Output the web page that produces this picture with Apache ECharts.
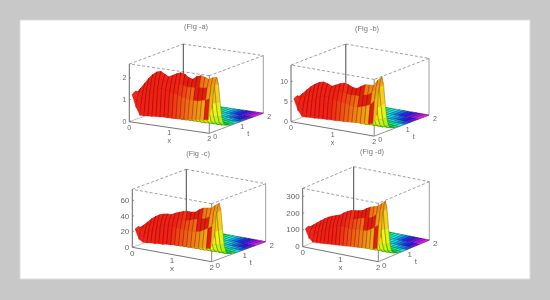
<!DOCTYPE html>
<html>
<head>
<meta charset="utf-8">
<style>html,body{margin:0;padding:0;background:#c8c8c8}#main{width:550px;height:300px}</style>
<script src="https://cdn.jsdelivr.net/npm/echarts@6/dist/echarts.min.js"></script>
</head>
<body>
<div id="main"></div>
<script>
var xValues = [0,.1,.2,.3,.4,.5,.6,.7,.8,.9,1,1.1,1.2,1.3,1.4,1.5,1.6,1.7,1.8,1.9,2];
var tValues = [.1,.16,.22,.28,.34,.4,.46,.52,.6,.75,.9,1.1,1.3,1.6,2];
var xTicks = [0,1,2];
var tTicks = [0,1,2];

// one row per tValues entry, one column per xValues entry
var surfaceA = [
[1.2,.65,.3,.3,.32,.33,.35,.36,.38,.38,.38,.4,.4,.42,.44,.46,.48,.5,.52,.55,1.1],
[1.25,1.1,1,1.15,1.3,1.45,1.6,1.65,1.6,1.55,1.5,1.45,1.4,1.35,1.3,1.3,1.3,1.35,1.4,1.5,1.9],
[1.3,1.3,1.4,1.6,1.85,2,2.05,2,1.95,1.95,1.95,1.95,1.9,1.85,1.85,1.85,1.9,1.9,1.95,2.1,2.3],
[1.2,1.45,1.7,1.95,2.15,2.3,2.35,2.25,2.15,2.25,2.35,2.42,2.38,2.25,2.2,2.35,2.42,2.38,2.3,2.4,2.45],
[1.15,1.25,1.45,1.65,1.85,1.95,2,1.9,1.85,1.9,2,2.05,2,1.9,1.9,2,2.05,2,1.95,2.05,2.1],
[.9,.8,.85,.95,1.05,1.15,1.2,1.15,1.1,1.15,1.2,1.2,1.2,1.15,1.1,1.2,1.2,1.2,1.15,1.2,1.25],
[.5,.4,.4,.45,.5,.5,.5,.5,.5,.5,.5,.55,.55,.5,.5,.5,.55,.55,.5,.55,.55],
[.25,.2,.2,.2,.2,.2,.2,.2,.2,.2,.2,.22,.22,.2,.2,.2,.22,.22,.2,.22,.24],
[.1,.08,.08,.08,.08,.08,.08,.08,.08,.08,.08,.09,.09,.08,.08,.08,.09,.09,.08,.09,.1],
[.04,.03,.03,.03,.03,.03,.03,.03,.03,.03,.03,.04,.04,.03,.03,.03,.04,.04,.03,.04,.04],
[.03,.02,.02,.02,.02,.02,.02,.02,.02,.02,.02,.03,.03,.02,.02,.02,.03,.03,.02,.03,.03],
[.02,.02,.02,.02,.02,.02,.02,.02,.02,.02,.02,.02,.02,.02,.02,.02,.02,.02,.02,.02,.02],
[.02,.01,.01,.01,.01,.01,.01,.01,.01,.01,.01,.02,.02,.01,.01,.01,.02,.02,.01,.02,.02],
[.01,.01,.01,.01,.01,.01,.01,.01,.01,.01,.01,.01,.01,.01,.01,.01,.01,.01,.01,.01,.01],
[.01,.01,.01,.01,.01,.01,.01,.01,.01,.01,.01,.01,.01,.01,.01,.01,.01,.01,.01,.01,.01]
];
var surfaceB = [
[5.5,2.8,1.4,1.4,1.5,1.5,1.6,1.7,1.7,1.8,1.8,1.9,1.9,2,2.1,2.2,2.3,2.4,2.5,2.7,5],
[5.7,4.9,4.5,5.1,5.6,6.3,7,7.3,7.1,7,6.8,6.5,6.3,6.1,6,5.9,6.2,6.6,7.1,8.2,11],
[5.9,5.9,6.2,7.1,8.1,8.7,9,8.9,8.7,8.8,8.8,8.8,8.6,8.4,8.5,8.5,9,9.2,9.9,11.4,13.2],
[5.5,6.5,7.6,8.6,9.4,10,10.3,10,9.6,10.1,10.6,10.9,10.7,10.2,10.1,10.8,11.4,11.5,11.6,13,14.1],
[5.3,5.6,6.5,7.3,8.1,8.5,8.8,8.4,8.3,8.5,9,9.3,9,8.6,8.7,9.2,9.7,9.7,9.9,11.1,12.1],
[4.3,3.6,3.8,4.2,4.6,5,5.2,5,4.8,5,5.3,5.4,5.3,5.1,5,5.4,5.7,5.8,5.8,6.5,7.2],
[2.4,1.7,1.7,1.9,2,2.2,2.3,2.2,2.1,2.2,2.3,2.4,2.3,2.2,2.2,2.4,2.5,2.5,2.5,2.9,3.2],
[1.1,.8,.7,.8,.8,.9,.9,.9,.9,.9,.9,1,.9,.9,.9,1,1,1,1,1.2,1.3],
[.4,.3,.3,.3,.3,.3,.3,.3,.3,.3,.3,.4,.4,.3,.3,.4,.4,.4,.4,.5,.5],
[.2,.1,.1,.1,.1,.1,.1,.1,.1,.1,.1,.2,.2,.1,.1,.2,.2,.2,.2,.2,.2],
[.1,.1,.1,.1,.1,.1,.1,.1,.1,.1,.1,.1,.1,.1,.1,.1,.1,.1,.1,.1,.1],
[.1,.1,.1,.1,.1,.1,.1,.1,.1,.1,.1,.1,.1,.1,.1,.1,.1,.1,.1,.1,.1],
[.05,.05,.05,.05,.05,.05,.05,.05,.05,.05,.05,.05,.05,.05,.05,.05,.05,.05,.05,.05,.05],
[.05,.05,.05,.05,.05,.05,.05,.05,.05,.05,.05,.05,.05,.05,.05,.05,.05,.05,.05,.05,.05],
[.02,.02,.02,.02,.02,.02,.02,.02,.02,.02,.02,.02,.02,.02,.02,.02,.02,.02,.02,.02,.02]
];
var surfaceC = [
[22,10,7,7,8,8,9,9,10,10,11,11,12,12,12,13,13,14,14,15,30],
[23,20,18,21,24,27,31,34,34,34,33,32,32,32,32,32,33,36,39,43,56],
[24,23,25,30,34,37,39,41,42,43,42,43,43,44,46,47,49,50,54,60,68],
[22,26,31,36,40,43,45,46,46,49,51,53,54,54,55,59,62,63,64,68,72],
[21,22,26,31,34,37,38,39,40,41,43,45,45,45,47,50,53,53,54,58,62],
[17,14,15,17,19,21,23,23,23,24,26,27,27,27,28,30,31,32,32,34,37],
[9,6.5,7,8,8.5,9.5,10,10,10,11,11,12,12,12,12,13,14,14,14,15,16],
[4,3,3,3.2,3.5,3.8,4,4,4,4.5,4.5,5,5,5,5,5.5,5.5,6,6,6,6.5],
[1.6,1.2,1.2,1.3,1.4,1.5,1.6,1.6,1.6,1.8,1.8,2,2,2,2,2.2,2.2,2.4,2.4,2.4,2.6],
[.8,.6,.6,.6,.7,.7,.8,.8,.8,.9,.9,1,1,1,1,1,1,1.1,1.1,1.1,1.2],
[.5,.4,.4,.4,.4,.4,.4,.4,.4,.5,.5,.5,.5,.5,.5,.5,.5,.6,.6,.6,.6],
[.3,.3,.3,.3,.3,.3,.3,.3,.3,.3,.3,.3,.3,.3,.3,.3,.3,.3,.3,.3,.3],
[.2,.2,.2,.2,.2,.2,.2,.2,.2,.2,.2,.2,.2,.2,.2,.2,.2,.2,.2,.2,.2],
[.1,.1,.1,.1,.1,.1,.1,.1,.1,.1,.1,.1,.1,.1,.1,.1,.1,.1,.1,.1,.1],
[.1,.1,.1,.1,.1,.1,.1,.1,.1,.1,.1,.1,.1,.1,.1,.1,.1,.1,.1,.1,.1]
];
var surfaceD = [
[100,48,30,30,32,34,36,38,40,42,44,46,48,50,52,55,58,60,62,68,140],
[104,90,80,90,101,115,131,146,154,155,152,149,149,154,155,153,157,170,186,205,270],
[108,106,111,125,144,158,167,178,189,196,198,201,202,210,220,220,229,238,259,286,325],
[100,118,135,152,168,182,192,200,208,225,238,248,252,256,262,278,290,298,305,325,346],
[96,101,115,129,144,155,163,168,179,189,202,211,212,215,225,236,246,250,259,276,298],
[78,65,70,78,87,95,102,104,106,114,122,127,128,130,135,143,150,154,155,165,178],
[44,30,31,35,38,42,44,46,47,50,53,55,57,58,59,62,65,66,68,72,78],
[20,13,13,15,16,17,18,19,19,21,22,23,24,24,25,26,27,27,28,30,32],
[8,5,5,6,6,7,7,8,8,8,8,9,9,9,10,10,11,11,11,12,13],
[3,2,2,2,3,3,3,3,3,3,3,4,4,4,4,4,4,4,4,5,5],
[2,1,1,1,2,2,2,2,2,2,2,2,2,2,2,2,2,2,2,3,3],
[1,1,1,1,1,1,1,1,1,1,1,1,1,1,1,1,1,1,1,1,1],
[1,1,1,1,1,1,1,1,1,1,1,1,1,1,1,1,1,1,1,1,1],
[.5,.5,.5,.5,.5,.5,.5,.5,.5,.5,.5,.5,.5,.5,.5,.5,.5,.5,.5,.5,.5],
[.5,.5,.5,.5,.5,.5,.5,.5,.5,.5,.5,.5,.5,.5,.5,.5,.5,.5,.5,.5,.5]
];

var zTicksA = [0,1,2];
var zTicksB = [0,5,10];
var zTicksC = [0,20,40,60];
var zTicksD = [0,100,200,300];
var titles = ['(Fig -a)','(Fig -b)','(Fig -c)','(Fig -d)'];

// hue ramp along t on the flat part of the sheet
var hueStopT = [0,.3,.5,.7,1,1.3,1.9,2];
var hueStopV = [0,0,30,70,125,195,260,265];

var panels = [
	{z: surfaceA, zTicks: zTicksA, zMax: 2.66, title: titles[0], titleAt: [196,27], o: [129.3,121.7], xv: [40,5.8], tv: [27,-10], h: 57.7, font: 7},
	{z: surfaceB, zTicks: zTicksB, zMax: 14.2, title: titles[1], titleAt: [367,29], o: [291,121.7], xv: [41.6,7.2], tv: [27.4,-10.5], h: 56.7, font: 7},
	{z: surfaceC, zTicks: zTicksC, zMax: 75, title: titles[2], titleAt: [198,154], o: [132.3,247.3], xv: [39.7,7.2], tv: [27,-10], h: 58, font: 8},
	{z: surfaceD, zTicks: zTicksD, zMax: 350, title: titles[3], titleAt: [372,152], o: [302.7,246.7], xv: [37.8,7.5], tv: [25.5,-10.8], h: 58.4, font: 8}
];

function project(p, x, t, z) {
	return [
		p.o[0] + x * p.xv[0] + t * p.tv[0],
		p.o[1] + x * p.xv[1] + t * p.tv[1] - z / p.zMax * p.h
	];
}

function rampT(t) {
	for (var i = 1; i < hueStopT.length; i++) {
		if (t <= hueStopT[i]) {
			var f = (t - hueStopT[i - 1]) / (hueStopT[i] - hueStopT[i - 1]);
			return hueStopV[i - 1] + f * (hueStopV[i] - hueStopV[i - 1]);
		}
	}
	return hueStopV[hueStopV.length - 1];
}

function cellColor(x, t, zf) {
	// the dark red fold that runs down to the front right corner
	if (t < .28 && t > .1) {
		var left = 1.0 + 5.2 * (.28 - t), right = 1.55 + 2.4 * (.28 - t);
		if (x > left && x < right) return 'hsl(4,90%,48%)';
	}
	var h = Math.max(0, (x - .6) * 40) + rampT(t) * x / 2 - 20 * Math.min(zf, 1);
	h = Math.max(h, 3);
	return 'hsl(' + h.toFixed(0) + ',92%,52%)';
}

function surfaceSeries(p) {
	var cells = [];
	for (var j = tValues.length - 2; j >= 0; j--) {
		for (var i = 0; i < xValues.length - 1; i++) {
			cells.push([i, j]);
		}
	}
	return {
		type: 'custom',
		coordinateSystem: 'cartesian2d',
		clip: false,
		silent: true,
		z: 3,
		animation: false,
		encode: {x: 0, y: 1},
		data: cells,
		renderItem: function (params, api) {
			var i = api.value(0), j = api.value(1);
			var corners = [[i, j], [i + 1, j], [i + 1, j + 1], [i, j + 1]];
			var pts = corners.map(function (c) {
				return api.coord(project(p, xValues[c[0]], tValues[c[1]], p.z[c[1]][c[0]]));
			});
			var mx = (xValues[i] + xValues[i + 1]) / 2, mt = (tValues[j] + tValues[j + 1]) / 2;
			var mz = (p.z[j][i] + p.z[j][i + 1] + p.z[j + 1][i] + p.z[j + 1][i + 1]) / 4;
			var fill = cellColor(mx, mt, mz / (p.zMax * .9));
			var rowAlpha = mt > .55 ? .6 : .12;
			var colAlpha = mt > .55 ? .6 : .5;
			return {
				type: 'group',
				children: [
					{type: 'polygon', shape: {points: pts}, style: {fill: fill, stroke: fill, lineWidth: .3}},
					// mesh: lines along t are the strong ones, rows only show on the flat part
					{type: 'line', shape: {x1: pts[0][0], y1: pts[0][1], x2: pts[3][0], y2: pts[3][1]},
						style: {stroke: 'rgba(10,10,10,' + colAlpha + ')', lineWidth: .5}},
					{type: 'line', shape: {x1: pts[1][0], y1: pts[1][1], x2: pts[2][0], y2: pts[2][1]},
						style: {stroke: 'rgba(10,10,10,' + colAlpha + ')', lineWidth: .5}},
					{type: 'line', shape: {x1: pts[2][0], y1: pts[2][1], x2: pts[3][0], y2: pts[3][1]},
						style: {stroke: 'rgba(10,10,10,' + rowAlpha + ')', lineWidth: .4}}
				]
			};
		}
	};
}

function boxSeries(p) {
	return {
		type: 'custom',
		coordinateSystem: 'cartesian2d',
		clip: false,
		silent: true,
		z: 2,
		animation: false,
		encode: {x: 0, y: 1},
		data: [[0, 0]],
		renderItem: function (params, api) {
			var kids = [];
			function edge(a, b, color, width, dash) {
				var s = api.coord(project(p, a[0], a[1], a[2]));
				var e = api.coord(project(p, b[0], b[1], b[2]));
				kids.push({type: 'line', shape: {x1: s[0], y1: s[1], x2: e[0], y2: e[1]},
					style: {stroke: color, lineWidth: width, lineDash: dash || null}});
			}
			function label(str, at, dx, dy, align, size, color) {
				var s = api.coord(at);
				kids.push({type: 'text', x: s[0] + dx, y: s[1] + dy, style: {text: str, fill: color || '#666',
					font: size + 'px "Liberation Sans"', align: align || 'center', verticalAlign: 'middle'}});
			}
			var T = p.zMax;
			// top of the box
			edge([0,0,T],[0,2,T],'#888',.8,[3,2]);
			edge([0,2,T],[2,2,T],'#888',.8,[3,2]);
			edge([2,2,T],[2,0,T],'#888',.8,[3,2]);
			edge([2,0,T],[0,0,T],'#888',.8,[3,2]);
			// uprights
			edge([0,2,0],[0,2,T],'#333',.9);
			edge([0,0,0],[0,0,T],'#555',.9);
			edge([2,2,0],[2,2,T],'#888',.8);
			edge([2,0,0],[2,0,T],'#666',.8);
			// floor
			edge([0,0,0],[2,0,0],'#666',.9);
			edge([2,0,0],[2,2,0],'#888',.9);
			edge([0,0,0],[0,2,0],'#aaa',.7);
			edge([0,2,0],[2,2,0],'#aaa',.7);
			p.zTicks.forEach(function (v) {
				edge([0,0,v],[0,.06,v],'#666',.7);
				label(String(v), project(p, 0, 0, v), -3, 0, 'right', p.font);
			});
			xTicks.forEach(function (v) {
				label(String(v), project(p, v, 0, 0), 0, 6, 'center', p.font);
			});
			tTicks.forEach(function (v) {
				label(String(v), project(p, 2, v, 0), 6, 4, 'center', p.font);
			});
			label('x', project(p, 1, 0, 0), 0, 14, 'center', p.font);
			label('t', project(p, 2, 1, 0), 12, 11, 'center', p.font);
			label(p.title, p.titleAt, 0, 0, 'center', 7.5, '#777');
			return {type: 'group', children: kids};
		}
	};
}

var myChart = echarts.init(document.getElementById('main'), null, {renderer: 'canvas'});
var series = [];
panels.forEach(function (p) {
	series.push(boxSeries(p));
	series.push(surfaceSeries(p));
});
var option = {
	animation: false,
	backgroundColor: '#c8c8c8',
	graphic: [{
		type: 'rect',
		shape: {x: 20, y: 20, width: 510, height: 259},
		style: {fill: '#fff', stroke: '#ddd', lineWidth: 1},
		silent: true,
		z: -1
	}],
	grid: {left: 0, right: 0, top: 0, bottom: 0},
	xAxis: {type: 'value', min: 0, max: 550, show: false},
	yAxis: {type: 'value', min: 0, max: 300, inverse: true, show: false},
	series: series
};
myChart.setOption(option);
</script>
</body>
</html>
